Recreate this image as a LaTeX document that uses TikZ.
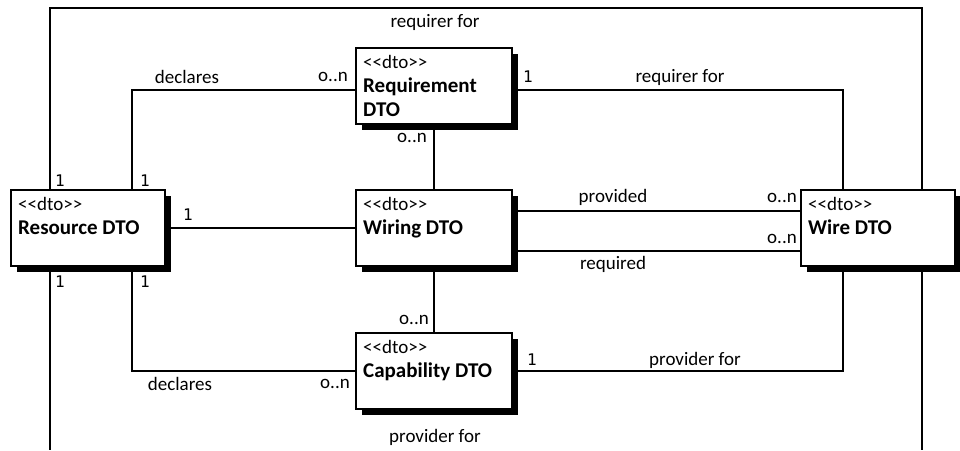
\documentclass[tikz,border=0pt]{standalone}
\usepackage{fontspec}
\setmainfont{Carlito}
\setmonofont{DejaVu Sans Mono}
\usetikzlibrary{positioning,shadows}
\newcommand\dtotag{{\fontsize{19}{25}\selectfont{<}{<}dto{>}{>}}}
\tikzset{
  dto/.style={draw, line width=1.6pt, fill=white, anchor=north west,
    minimum width=154pt, minimum height=76pt, inner sep=0pt,
    drop shadow={shadow xshift=6pt, shadow yshift=-6pt, opacity=1, fill=black}},
  dtotxt/.style={anchor=north west, align=left, inner sep=0pt,
    xshift=8pt, yshift=-8pt, font=\fontsize{21}{24}\selectfont},
  assoc/.style={line width=1.4pt},
  lbl/.style={inner sep=0pt, font=\fontsize{19}{22}\selectfont},
  mult/.style={inner sep=0pt, font=\fontsize{16}{18}\selectfont\ttfamily},
}

\begin{document}
\begin{tikzpicture}[x=1pt,y=-1pt]
\useasboundingbox (0,0) rectangle (960,450);
% DTO classes
\node[dto] (res) at (10,189) {};
\node[dtotxt] at (res.north west) {\dtotag\\\textbf{Resource DTO}};
\node[dto, minimum width=156pt] (req) at (355,47) {};
\node[dtotxt] at (req.north west) {\dtotag\\\textbf{Requirement}\\\textbf{DTO}};
\node[dto, minimum width=156pt] (wir) at (355,189) {};
\node[dtotxt] at (wir.north west) {\dtotag\\\textbf{Wiring DTO}};
\node[dto] (wire) at (800,189) {};
\node[dtotxt] at (wire.north west) {\dtotag\\\textbf{Wire DTO}};
\node[dto, minimum width=156pt] (cap) at (355,332) {};
\node[dtotxt] at (cap.north west) {\dtotag\\\textbf{Capability DTO}};
% corners of the associations
\coordinate (lt) at (50,8);
\coordinate (rt) at (922,8);
\coordinate (lb) at (50,450);
\coordinate (rb) at (922,450);
\coordinate (dx) at (132,0);
\coordinate (wx) at (843,0);
% associations
\draw[assoc] (res.north -| lt) -- (lt) -- (rt) -- (wire.north -| rt);
\draw[assoc] (res.south -| lb) -- (lb);
\draw[assoc] (wire.south -| rb) -- (rb);
\draw[assoc] (res.north -| dx) |- ([yshift=-4pt]req.west);
\draw[assoc] ([yshift=-4pt]req.east) -| (wx |- wire.north);
\draw[assoc] (req.south) -- (wir.north);
\draw[assoc] (wir.south) -- (cap.north);
\draw[assoc] (res.east) -- (wir.west);
\draw[assoc] ([yshift=17pt]wir.east) -- ([yshift=17pt]wire.west);
\draw[assoc] ([yshift=-23pt]wir.east) -- ([yshift=-23pt]wire.west);
\draw[assoc] (res.south -| dx) |- (cap.west);
\draw[assoc] (cap.east) -| (wx |- wire.south);
% role names
\node[lbl] (l1) at (435,22) {requirer for};
\node[lbl] (l2) at (187,77) {declares};
\node[lbl] (l3) at (680,77) {requirer for};
\node[lbl] (l4) at (613,197) {provided};
\node[lbl] (l5) at (613,264) {required};
\node[lbl] (l6) at (695,360) {provider for};
\node[lbl] (l7) at (180,384) {declares};
\node[lbl] (l8) at (435,437) {provider for};
% multiplicities
\node[lbl] (m1) at (333,77) {o..n};
\node[lbl] (m2) at (412,138) {o..n};
\node[lbl] (m3) at (782,198) {o..n};
\node[lbl] (m4) at (782,239) {o..n};
\node[lbl] (m5) at (414,320) {o..n};
\node[lbl] (m6) at (335,384) {o..n};
\node[mult] (n1) at (60,181) {1};
\node[mult] (n2) at (145,181) {1};
\node[mult] (n3) at (60,282) {1};
\node[mult] (n4) at (145,282) {1};
\node[mult] (n5) at (188,215) {1};
\node[mult] (n6) at (528,77) {1};
\node[mult] (n7) at (532,360) {1};
\end{tikzpicture}
\end{document}
